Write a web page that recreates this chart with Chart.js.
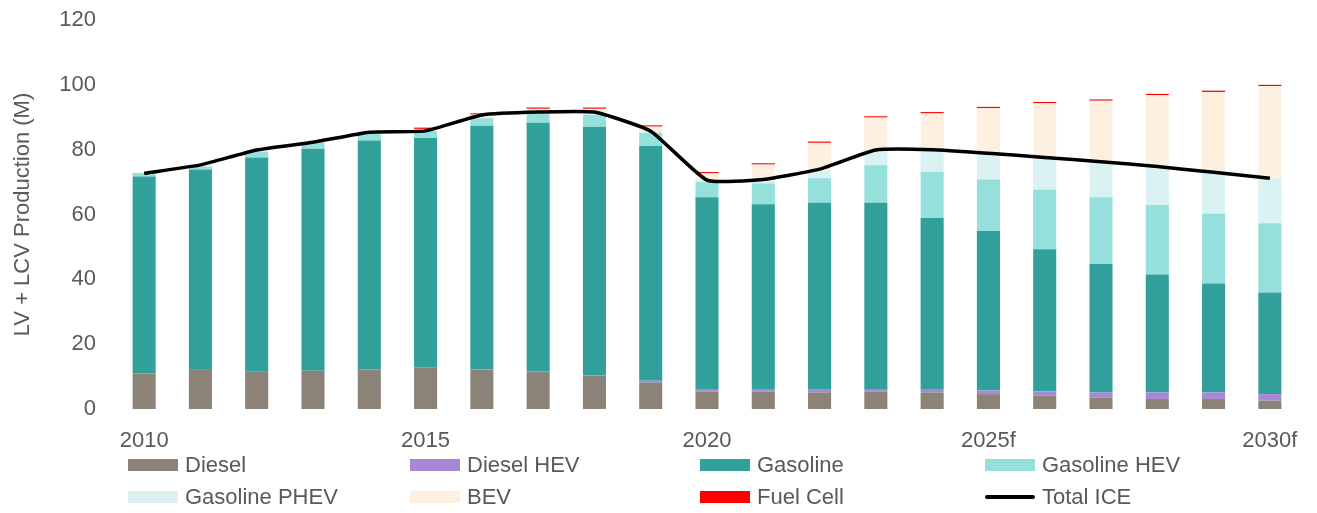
<!DOCTYPE html>
<html>
<head>
<meta charset="utf-8">
<script src="https://cdn.jsdelivr.net/npm/chart.js@4"></script>
<style>
  html, body { margin: 0; padding: 0; background: #fff; }
  #wrap { position: relative; width: 1317px; height: 513px; }
  #legend { position: absolute; left: 128px; top: 452px; width: 1160px;
    display: grid; grid-template-columns: 282px 290px 285px 290px; row-gap: 6px;
    font-family: "Liberation Sans", Arial, sans-serif; font-size: 22px; color: #595959; }
  .item { display: flex; align-items: center; height: 26px; white-space: nowrap; }
  .box { width: 50px; height: 12px; margin-right: 7px; flex: none; }
</style>
</head>
<body>
<div id="wrap">
  <canvas id="myChart" width="1317" height="513"></canvas>
  <div id="legend"></div>
</div>
<script>
var years = ['2010', '2011', '2012', '2013', '2014', '2015', '2016', '2017', '2018', '2019', '2020',
    '2021', '2022', '2023', '2024', '2025f', '2026f', '2027f', '2028f', '2029f', '2030f']
var diesel = [11.0, 12.3, 11.5, 11.8, 12.2, 12.7, 12.1, 11.4, 10.3, 8.1, 5.4, 5.4, 5.1, 5.4, 5.1, 4.6, 4.1, 3.5, 3.1, 3.1, 2.6]
var dieselHev = [0, 0, 0, 0, 0, 0, 0.1, 0.3, 0.2, 0.6, 0.5, 0.5, 0.8, 0.8, 1.1, 1.1, 1.3, 1.6, 2.0, 2.0, 2.0]
var gasoline = [60.7, 61.6, 66.1, 68.5, 70.6, 70.9, 75.2, 76.6, 76.6, 72.4, 59.4, 57.3, 57.7, 57.4, 52.7, 49.2, 43.9, 39.6, 36.4, 33.6, 31.3]
var gasolineHev = [1.1, 0.9, 1.8, 1.9, 2.0, 2.2, 2.3, 2.9, 3.6, 4.1, 4.7, 6.4, 7.6, 11.6, 14.3, 15.9, 18.3, 20.6, 21.4, 21.5, 21.4]
var gasolinePhev = [0, 0, 0, 0, 0.1, 0.1, 0.4, 0.4, 0.6, 0.5, 0.6, 0.8, 2.3, 4.7, 6.9, 8.1, 10.0, 11.0, 11.9, 12.8, 13.9]
var bev = [0.1, 0.2, 0.2, 0.3, 0.4, 0.5, 0.7, 1.0, 1.3, 1.4, 2.1, 5.0, 8.6, 10.0, 11.1, 13.9, 16.7, 18.8, 22.0, 24.8, 28.4]
var fuelCell = [0, 0, 0, 0, 0.2, 0.4, 0.4, 0.4, 0.4, 0.4, 0.4, 0.4, 0.4, 0.4, 0.4, 0.4, 0.4, 0.4, 0.4, 0.4, 0.4]
var totalIce = [72.7, 75.3, 79.9, 82.3, 85.4, 85.8, 90.7, 91.6, 91.6, 85.7, 70.6, 70.8, 74.0, 79.9, 80.0, 78.9, 77.6, 76.3, 74.8, 73.0, 71.2]
var yTicks = [0, 20, 40, 60, 80, 100, 120]

var textColor = '#595959'
var fontFamily = '"Liberation Sans", Arial, sans-serif'

function barSet(label, data, color) {
    return {
        type: 'bar',
        label: label,
        data: data,
        backgroundColor: color,
        borderWidth: 0,
        categoryPercentage: 1,
        barPercentage: 0.41,
        order: 1
    }
}

var ctx = document.getElementById('myChart').getContext('2d');
var myChart = new Chart(ctx, {
    data: {
        labels: years,
        datasets: [
            barSet('Diesel', diesel, '#8b8378'),
            barSet('Diesel HEV', dieselHev, '#a788d4'),
            barSet('Gasoline', gasoline, '#31a09b'),
            barSet('Gasoline HEV', gasolineHev, '#96e0dc'),
            barSet('Gasoline PHEV', gasolinePhev, '#daf2f2'),
            barSet('BEV', bev, '#fef0e0'),
            barSet('Fuel Cell', fuelCell, '#ff0000'),
            {
                type: 'line',
                label: 'Total ICE',
                data: totalIce,
                borderColor: '#000000',
                borderWidth: 3.5,
                pointRadius: 0,
                tension: 0.15,
                order: 0
            }
        ]
    },
    options: {
        responsive: false,
        animation: false,
        layout: { padding: { top: 20, right: 19, bottom: 59, left: 0 } },
        plugins: {
            legend: { display: false },
            tooltip: { enabled: false }
        },
        scales: {
            x: {
                stacked: true,
                grid: { display: false, drawTicks: false },
                border: { display: false },
                ticks: {
                    autoSkip: false,
                    maxRotation: 0,
                    padding: 19,
                    color: textColor,
                    font: { size: 22, family: fontFamily },
                    callback: function (value, index) {
                        return index % 5 === 0 ? years[index] : ''
                    }
                },
                afterFit: function (scale) { scale.height = 45 }
            },
            y: {
                stacked: true,
                min: 0,
                max: 120,
                grid: { display: false, drawTicks: false },
                border: { display: false },
                afterBuildTicks: function (scale) {
                    scale.ticks = yTicks.map(function (v) { return { value: v } })
                },
                ticks: {
                    padding: 20,
                    color: textColor,
                    font: { size: 22, family: fontFamily }
                },
                title: {
                    display: true,
                    text: 'LV + LCV Production (M)',
                    color: textColor,
                    font: { size: 22, family: fontFamily },
                    padding: { top: 10, bottom: 0 }
                },
                afterFit: function (scale) {
                    scale.width = 116
                    scale.paddingTop = 0
                    scale.paddingBottom = 0
                }
            }
        }
    }
});

// legend in four fixed columns, like the original
var legendEl = document.getElementById('legend')
myChart.data.datasets.forEach(function (ds) {
    var item = document.createElement('div')
    item.className = 'item'
    var box = document.createElement('span')
    box.className = 'box'
    if (ds.type === 'line') {
        box.style.height = '4px'
        box.style.background = '#000'
        box.style.borderRadius = '2px'
    } else {
        box.style.background = ds.backgroundColor
    }
    var txt = document.createElement('span')
    txt.textContent = ds.label
    item.appendChild(box)
    item.appendChild(txt)
    legendEl.appendChild(item)
})
</script>
</body>
</html>
